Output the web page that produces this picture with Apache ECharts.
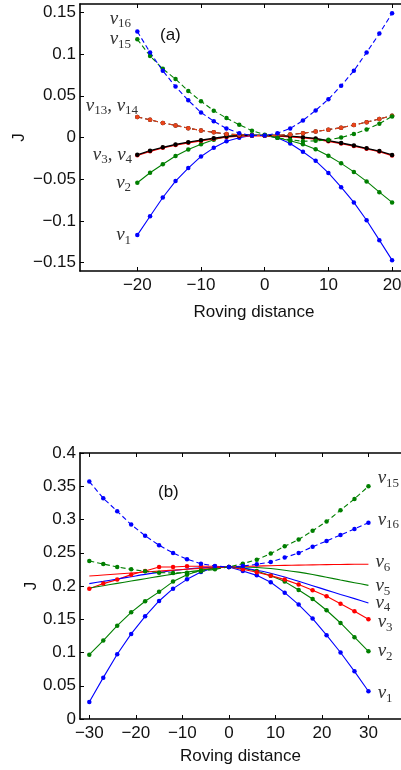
<!DOCTYPE html>
<html>
<head>
<meta charset="utf-8">
<script src="https://cdn.jsdelivr.net/npm/echarts@6/dist/echarts.min.js"></script>
<style>
html, body { margin: 0; padding: 0; background: #fff; }
#chart { width: 401px; height: 770px; }
</style>
</head>
<body>
<div id="chart"></div>
<script>
// ---- panel (a) ----
var xA = [-20, -18, -16, -14, -12, -10, -8, -6, -4, -2, 0, 2, 4, 6, 8, 10, 12, 14, 16, 18, 20];
var a_v1 = [-0.117, -0.0944, -0.0719, -0.0522, -0.0367, -0.0227, -0.0124, -0.0045, -0.0004, 0.0024, 0.0024, -0.0004, -0.0072, -0.0171, -0.028, -0.0425, -0.0595, -0.0778, -0.0992, -0.123, -0.147];
var a_v2 = [-0.0542, -0.0422, -0.0321, -0.0221, -0.0143, -0.008, -0.0026, 0.0012, 0.0028, 0.0026, 0.0024, -0.0004, -0.004, -0.0082, -0.014, -0.0218, -0.031, -0.0412, -0.0526, -0.0655, -0.0778];
var a_v3 = [-0.0213, -0.0165, -0.0124, -0.0091, -0.0063, -0.0039, -0.0016, 0.0005, 0.0017, 0.0021, 0.0021, 0.0017, 0.0009, -0.0003, -0.0019, -0.0045, -0.0073, -0.0103, -0.0136, -0.0169, -0.0216];
var a_v4 = [-0.0207, -0.0158, -0.0117, -0.0084, -0.0056, -0.0032, -0.0009, 0.0012, 0.0024, 0.0028, 0.0028, 0.0024, 0.0016, 0.0004, -0.0012, -0.0038, -0.0066, -0.0096, -0.0129, -0.0162, -0.0209];
var a_v13 = [0.0245, 0.0213, 0.0174, 0.0145, 0.0112, 0.0084, 0.0062, 0.0042, 0.0032, 0.0025, 0.0024, 0.0026, 0.0035, 0.0052, 0.0072, 0.0094, 0.0117, 0.0149, 0.0184, 0.0222, 0.0262];
var a_v14 = [0.0245, 0.0213, 0.0174, 0.0145, 0.0112, 0.0084, 0.0062, 0.0042, 0.0032, 0.0025, 0.0024, 0.0026, 0.0035, 0.0052, 0.0072, 0.0094, 0.0117, 0.0149, 0.0184, 0.0222, 0.0262];
var a_v15 = [0.1177, 0.0976, 0.0823, 0.07, 0.0558, 0.0434, 0.0322, 0.0233, 0.0153, 0.0082, 0.0033, -0.0004, -0.0028, -0.0045, -0.004, -0.0028, 0.0, 0.0042, 0.0096, 0.0165, 0.0253];
var a_v16 = [0.127, 0.102, 0.08, 0.061, 0.0446, 0.03, 0.0195, 0.0108, 0.0052, 0.0024, 0.0024, 0.0052, 0.0108, 0.0203, 0.0325, 0.0458, 0.062, 0.08, 0.102, 0.1245, 0.149];
var a_xTicks = [-20, -10, 0, 10, 20];
var a_yTicks = [-0.15, -0.1, -0.05, 0, 0.05, 0.1, 0.15];

// ---- panel (b) ----
var xB = [-30, -27, -24, -21, -18, -15, -12, -9, -6, -3, 0, 3, 6, 9, 12, 15, 18, 21, 24, 27, 30];
var b_v1 = [0.0256, 0.0622, 0.0973, 0.128, 0.1544, 0.1775, 0.196, 0.21, 0.2211, 0.2277, 0.2286, 0.2226, 0.216, 0.2056, 0.19, 0.172, 0.151, 0.126, 0.1, 0.0717, 0.0417];
var b_v2 = [0.0968, 0.118, 0.1404, 0.1604, 0.177, 0.1912, 0.2066, 0.217, 0.2238, 0.2275, 0.2286, 0.2268, 0.2225, 0.2155, 0.2066, 0.194, 0.1805, 0.1635, 0.1444, 0.123, 0.1018];
var b_v3 = [0.196, 0.2036, 0.2096, 0.2171, 0.2226, 0.2286, 0.2286, 0.2296, 0.2296, 0.2296, 0.2286, 0.2251, 0.2206, 0.2156, 0.2096, 0.2021, 0.1935, 0.1845, 0.1733, 0.162, 0.15];
var b_v4 = [0.2036, 0.207, 0.2105, 0.214, 0.2175, 0.2205, 0.2232, 0.2255, 0.2272, 0.2282, 0.2286, 0.227, 0.2238, 0.2192, 0.2135, 0.207, 0.2005, 0.1938, 0.1872, 0.181, 0.1745];
var b_v5 = [0.197, 0.2005, 0.204, 0.2075, 0.211, 0.2145, 0.2178, 0.221, 0.2238, 0.2265, 0.2286, 0.2285, 0.2278, 0.2262, 0.2238, 0.2208, 0.2172, 0.2132, 0.209, 0.205, 0.201];
var b_v6 = [0.215, 0.2165, 0.218, 0.2195, 0.221, 0.2224, 0.2238, 0.2252, 0.2265, 0.2276, 0.2286, 0.2293, 0.2299, 0.2305, 0.231, 0.2314, 0.2318, 0.2321, 0.2324, 0.2326, 0.2328];
var b_v15 = [0.2376, 0.2331, 0.2286, 0.2251, 0.222, 0.2201, 0.2196, 0.22, 0.222, 0.2251, 0.2286, 0.2336, 0.2396, 0.2487, 0.2597, 0.27, 0.283, 0.297, 0.314, 0.331, 0.35];
var b_v16 = [0.357, 0.332, 0.3123, 0.2923, 0.2757, 0.2612, 0.2497, 0.2402, 0.2336, 0.23, 0.2286, 0.23, 0.2326, 0.2361, 0.2427, 0.2496, 0.259, 0.2677, 0.2767, 0.2857, 0.2953];
var b_xTicks = [-30, -20, -10, 0, 10, 20, 30];

var BLUE = '#0000ff', GREEN = '#007f00', RED = '#ff0000', BLACK = '#000000', ORANGE = '#e8431a';
var SANS = 'Liberation Sans';
var FS = 17;

var labelRich = {
  v: { fontFamily: 'Liberation Serif', fontStyle: 'italic', fontSize: 19, color: '#333' },
  c: { fontFamily: 'Liberation Serif', fontSize: 19, color: '#333' },
  s: { fontFamily: 'Liberation Serif', fontSize: 13, color: '#333', padding: [10, 0, 0, 0] }
};

function fmt(v) {
  return String(v).replace('-', '\u2212');
}

// one line series; tag = {idx, text, pos, offset} puts the v_i label on one point
function mk(name, xi, xs, ys, color, dashed, marks, tag, width) {
  var data = xs.map(function (x, i) {
    var item = { value: [x, ys[i]] };
    if (tag && tag.idx === i) {
      item.label = {
        show: true, position: tag.pos, distance: tag.dist, offset: tag.offset || [0, 0],
        formatter: tag.text, rich: labelRich
      };
    }
    return item;
  });
  return {
    name: name, type: 'line', xAxisIndex: xi, yAxisIndex: xi === 0 ? 0 : 1,
    data: data, smooth: !marks ? 0.3 : false,
    symbol: 'circle', symbolSize: marks ? 4.5 : 0, showSymbol: true,
    lineStyle: { color: color, width: width || 1.1, type: dashed ? [5, 3] : 'solid' },
    itemStyle: { color: color },
    emphasis: { disabled: true }, animation: false, z: 3
  };
}

function xAxisPair(grid, min, max, ticks, name, gap, shift) {
  var line = { onZero: false, lineStyle: { color: '#000', width: 1.6 } };
  return [{
    gridIndex: grid, type: 'value', min: min, max: max, position: 'bottom',
    axisLine: line,
    axisTick: { inside: true, length: 4, customValues: ticks, lineStyle: { color: '#000', width: 1 } },
    axisLabel: { customValues: ticks, formatter: fmt, color: '#111', fontSize: FS, fontFamily: SANS, margin: 6 },
    splitLine: { show: false },
    name: name, nameLocation: 'middle', nameGap: gap, nameMoveOverlap: false,
    nameTextStyle: { color: '#111', fontSize: FS, fontFamily: SANS, padding: [0, 0, 0, shift] }
  }, {
    gridIndex: grid, type: 'value', min: min, max: max, position: 'top',
    axisLine: line,
    axisTick: { inside: true, length: 4, customValues: ticks, lineStyle: { color: '#000', width: 1 } },
    axisLabel: { show: false }, splitLine: { show: false }
  }];
}

var myChart = echarts.init(document.getElementById('chart'), null, { renderer: 'canvas' });

var xAxes = xAxisPair(0, -29, 21.4, a_xTicks, 'Roving distance', 33, 27)
  .concat(xAxisPair(1, -32, 37, b_xTicks, 'Roving distance', 29, 0));

var yLine = { show: true, onZero: false, lineStyle: { color: '#000', width: 1.6 } };

myChart.setOption({
  backgroundColor: '#fff',
  animation: false,
  grid: [
    { left: 80, right: 0, top: 4, bottom: 499, outerBoundsMode: 'none' },
    { left: 80, right: 0, top: 453, bottom: 51, outerBoundsMode: 'none' }
  ],
  xAxis: xAxes,
  yAxis: [{
    gridIndex: 0, type: 'value', min: -0.16, max: 0.16,
    axisLine: yLine,
    axisTick: { show: true, inside: true, length: 4, customValues: a_yTicks, lineStyle: { color: '#000' } },
    axisLabel: { customValues: a_yTicks, formatter: fmt, color: '#111', fontSize: FS, fontFamily: SANS, margin: 4 },
    splitLine: { show: false },
    name: 'J', nameLocation: 'middle', nameGap: 52, nameRotate: 90, nameMoveOverlap: false,
    nameTextStyle: { color: '#111', fontSize: FS, fontFamily: SANS }
  }, {
    gridIndex: 1, type: 'value', min: 0, max: 0.4, interval: 0.05,
    axisLine: yLine,
    axisTick: { show: true, inside: true, length: 4, lineStyle: { color: '#000' } },
    axisLabel: { formatter: fmt, color: '#111', fontSize: FS, fontFamily: SANS, margin: 4 },
    splitLine: { show: false },
    name: 'J', nameLocation: 'middle', nameGap: 40, nameRotate: 90, nameMoveOverlap: false,
    nameTextStyle: { color: '#111', fontSize: FS, fontFamily: SANS }
  }],
  graphic: [
    { type: 'text', left: 160, top: 27, style: { text: '(a)', font: '17px "Liberation Sans"', fill: '#111' } },
    { type: 'text', left: 158, top: 484, style: { text: '(b)', font: '17px "Liberation Sans"', fill: '#111' } }
  ],
  series: [
    mk('a v1', 0, xA, a_v1, BLUE, false, true, { idx: 0, pos: 'left', dist: 4, text: '{v|v}{s|1}' }),
    mk('a v2', 0, xA, a_v2, GREEN, false, true, { idx: 0, pos: 'left', dist: 4, text: '{v|v}{s|2}' }),
    mk('a v3', 0, xA, a_v3, RED, false, true, null, 1.3),
    mk('a v4', 0, xA, a_v4, BLACK, false, true, { idx: 0, pos: 'left', dist: 3, text: '{v|v}{s|3}{c|, }{v|v}{s|4}' }, 1.3),
    mk('a v14', 0, xA, a_v14, BLACK, true, true, null),
    mk('a v13', 0, xA, a_v13, ORANGE, true, true, { idx: 0, pos: 'left', dist: 4, offset: [7, -11], text: '{v|v}{s|13}{c|, }{v|v}{s|14}' }),
    mk('a v15', 0, xA, a_v15, GREEN, true, true, { idx: 0, pos: 'left', dist: 4, text: '{v|v}{s|15}' }),
    mk('a v16', 0, xA, a_v16, BLUE, true, true, { idx: 0, pos: 'left', dist: 4, offset: [0, -13], text: '{v|v}{s|16}' }),

    mk('b v1', 2, xB, b_v1, BLUE, false, true, { idx: 20, pos: 'right', dist: 7, offset: [0, 2], text: '{v|v}{s|1}' }),
    mk('b v2', 2, xB, b_v2, GREEN, false, true, { idx: 20, pos: 'right', dist: 7, text: '{v|v}{s|2}' }),
    mk('b v3', 2, xB, b_v3, RED, false, true, { idx: 20, pos: 'right', dist: 7, offset: [0, 3], text: '{v|v}{s|3}' }),
    mk('b v4', 2, xB, b_v4, BLUE, false, false, { idx: 20, pos: 'right', dist: 7, offset: [0, 0], text: '{v|v}{s|4}' }),
    mk('b v5', 2, xB, b_v5, GREEN, false, false, { idx: 20, pos: 'right', dist: 7, offset: [0, 1], text: '{v|v}{s|5}' }),
    mk('b v6', 2, xB, b_v6, RED, false, false, { idx: 20, pos: 'right', dist: 7, offset: [0, -2], text: '{v|v}{s|6}' }),
    mk('b v15', 2, xB, b_v15, GREEN, true, true, { idx: 20, pos: 'right', dist: 7, offset: [0, -8], text: '{v|v}{s|15}' }),
    mk('b v16', 2, xB, b_v16, BLUE, true, true, { idx: 20, pos: 'right', dist: 7, offset: [0, -3], text: '{v|v}{s|16}' })
  ]
});
</script>
</body>
</html>
